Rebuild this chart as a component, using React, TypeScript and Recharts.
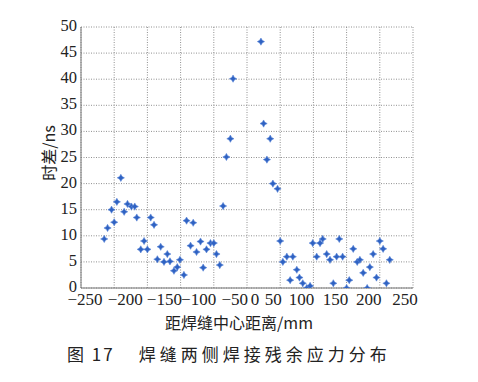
import React from "react";
import { ScatterChart, Scatter, XAxis, YAxis, CartesianGrid } from "recharts";

const distanceMm = [
  -215, -210, -204, -200, -196, -190, -185, -180, -174, -169, -166, -160, -155, -150, -145, -140,
  -135, -130, -125, -120, -116, -110, -105, -101, -95, -91, -85, -81, -76, -70, -66, -61, -55, -50,
  -46, -41, -36, -31, -25, -21,
  21, 25, 30, 35, 39, 46, 50, 54, 60, 65, 69, 75, 79, 84, 90, 95, 99, 105, 110, 114, 120, 125, 130,
  135, 139, 144, 150, 154, 160, 166, 170, 175, 181, 185, 190, 195, 200, 205, 210, 215,
];
const timeDiffNs = [
  9.4, 11.5, 15, 12.6, 16.5, 21.1, 14.6, 16.1, 15.6, 15.6, 13.5, 7.4, 9.0, 7.4, 13.5, 12.1,
  5.5, 7.9, 5.0, 6.5, 5.1, 3.3, 4.0, 5.4, 2.5, 12.9, 8.1, 12.5, 6.9, 8.9, 3.9, 7.4, 8.6, 8.6,
  6.5, 4.4, 15.7, 25.1, 28.6, 40.1,
  47.2, 31.5, 24.6, 28.6, 20, 19, 9.0, 5.0, 6.0, 1.5, 6.0, 3.5, 2.0, 0.9, 0, 0.4, 8.6, 6.0, 8.6, 9.4,
  6.5, 5.4, 0.9, 6.0, 9.4, 6.0, 0, 1.5, 7.5, 5.0, 5.4, 2.9, 0, 4.0, 6.5, 2.0, 9.0, 7.5, 0.9, 5.4,
];
const xTicks = [-250, -200, -150, -100, -50, 0, 50, 100, 150, 200, 250];
const yTicks = [0, 5, 10, 15, 20, 25, 30, 35, 40, 45, 50];
const xTitle = "距焊缝中心距离/mm";
const yTitle = "时差/ns";
const caption = "图 17";
const captionText = "焊缝两侧焊接残余应力分布";

const data = distanceMm.map((x, i) => ({ x, y: timeDiffNs[i] }));

const SERIF = "Liberation Serif, Times New Roman, DejaVu Serif, serif";
const CJK = "Noto Sans CJK SC, Liberation Serif, serif";

// label layout shift (the source's tick labels are typeset as a run of text)
const xLabelShift: Record<number, number> = {
  [-250]: 4, [-200]: 11, [-150]: 17, [-100]: 18, [-50]: 21, 0: 8, 50: -7, 100: -12, 150: -11, 200: -11, 250: -8,
};

const fmt = (v: number) => (v < 0 ? "\u2212" + Math.abs(v) : String(v));

const XTick = (props: any) => {
  const { x, y, payload } = props;
  const v = payload.value as number;
  return (
    <g>
      <text
        x={x + (xLabelShift[v] ?? 0)}
        y={y + 17}
        textAnchor="middle"
        fontFamily={SERIF}
        fontSize={17}
        fill="#222"
      >
        {fmt(v)}
      </text>
    </g>
  );
};

const YTick = (props: any) => {
  const { x, y, payload } = props;
  return (
    <g>
      <text x={x} y={y + 4} textAnchor="end" fontFamily={SERIF} fontSize={16.5} fill="#222">
        {payload.value}
      </text>
    </g>
  );
};

const Marker = (props: any) => {
  const { cx, cy } = props;
  if (cx == null || cy == null) return null;
  const r = 3.6;
  const k = 1.3;
  const d = `M${cx},${cy - r} L${cx + k},${cy - k} L${cx + r},${cy} L${cx + k},${cy + k} L${cx},${cy + r} L${cx - k},${cy + k} L${cx - r},${cy} L${cx - k},${cy - k} Z`;
  return <path d={d} fill="#2f62c2" stroke="#5a86d8" strokeWidth={0.6} />;
};

export default function App() {
  return (
    <div style={{ position: "absolute", left: 0, top: 0, width: 478, height: 382, background: "#fff", fontFamily: SERIF }}>
      <ScatterChart width={478} height={382} margin={{ top: 27, right: 65, left: 0, bottom: 64 }} style={{ fontFamily: SERIF }}>
        <CartesianGrid stroke="#909090" strokeDasharray="1 1.5" strokeWidth={1} />
        <XAxis
          type="number"
          dataKey="x"
          domain={[-250, 250]}
          ticks={xTicks}
          interval={0}
          height={30}
          tickSize={0}
          tickMargin={0}
          tick={<XTick />}
          axisLine={{ stroke: "#777" }}
          allowDataOverflow
        />
        <XAxis xAxisId="top" orientation="top" type="number" domain={[-250, 250]} height={0} tick={false} tickLine={false} axisLine={{ stroke: "#888" }} />
        <YAxis
          type="number"
          dataKey="y"
          domain={[0, 50]}
          ticks={yTicks}
          interval={0}
          width={81}
          tickSize={0}
          tickMargin={4}
          tick={<YTick />}
          axisLine={{ stroke: "#777" }}
          allowDataOverflow
        />
        <YAxis yAxisId="right" orientation="right" type="number" domain={[0, 50]} width={0} tick={false} tickLine={false} axisLine={{ stroke: "#888" }} />
        <Scatter data={data} shape={<Marker />} isAnimationActive={false} />
      </ScatterChart>
      <div
        style={{
          position: "absolute",
          left: 48,
          top: 153,
          transform: "translate(-50%, -50%) rotate(-90deg)",
          fontFamily: CJK,
          fontSize: 16,
          color: "#222",
          whiteSpace: "nowrap",
        }}
      >
        {yTitle}
      </div>
      <div
        style={{
          position: "absolute",
          left: 239,
          top: 322,
          transform: "translate(-50%, -50%)",
          fontFamily: CJK,
          fontSize: 16,
          color: "#222",
          whiteSpace: "nowrap",
        }}
      >
        {xTitle}
      </div>
      <div
        style={{
          position: "absolute",
          left: 67,
          top: 353,
          transform: "translateY(-50%)",
          fontFamily: CJK,
          fontSize: 17,
          color: "#222",
          whiteSpace: "nowrap",
        }}
      >
        <span style={{ letterSpacing: 2 }}>{caption}</span>
        <span style={{ display: "inline-block", width: 24 }} />
        <span style={{ letterSpacing: 4 }}>{captionText}</span>
      </div>
    </div>
  );
}
